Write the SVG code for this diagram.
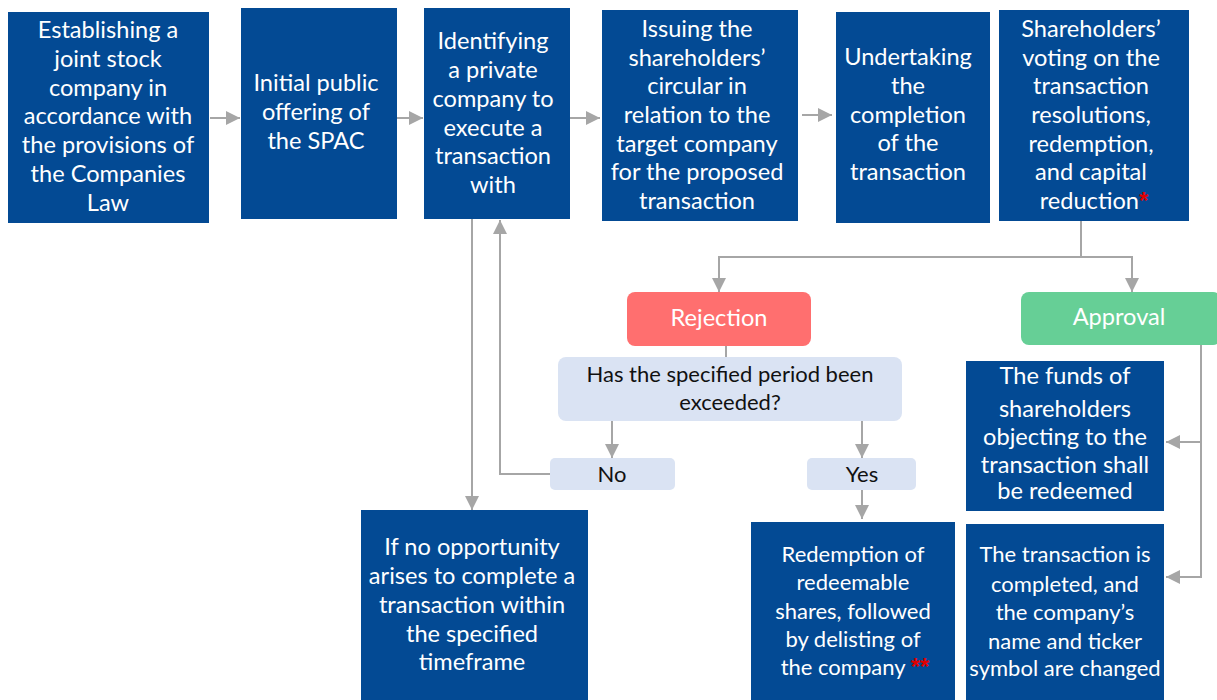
<svg xmlns="http://www.w3.org/2000/svg" width="1217" height="700" viewBox="0 0 1217 700">
<style>
.b{fill:#034A94}
.t{font-family:Lato,"Open Sans","Liberation Sans",sans-serif;font-size:23.6px;fill:#fff;text-anchor:middle}
.s{font-size:22px}
.q{font-family:Lato,"Open Sans","Liberation Sans",sans-serif;font-size:22px;fill:#111;text-anchor:middle}
.lb{fill:#DAE3F3}
.c{fill:none;stroke:#A6A6A6;stroke-width:2}
.r{fill:#E00000;font-family:"Liberation Sans",sans-serif;font-size:24px;font-weight:bold}
</style>
<defs>
<marker id="ah" viewBox="0 0 14 14" markerWidth="14" markerHeight="14" refX="14" refY="7" orient="auto" markerUnits="userSpaceOnUse">
<path d="M0,0 L14,7 L0,14 Z" fill="#A6A6A6"/>
</marker>
</defs>
<rect width="1217" height="700" fill="#fff"/>
<g id="connectors">
<path class="c" d="M210,118 H240" marker-end="url(#ah)"/>
<path class="c" d="M397,118 H423" marker-end="url(#ah)"/>
<path class="c" d="M570,118 H600" marker-end="url(#ah)"/>
<path class="c" d="M802,115 H832" marker-end="url(#ah)"/>
<path class="c" d="M1081,221 V257 H719 V292" marker-end="url(#ah)"/>
<path class="c" d="M1081,257 H1132 V292" marker-end="url(#ah)"/>
<path class="c" d="M726,346 V357"/>
<path class="c" d="M612,421 V458" marker-end="url(#ah)"/>
<path class="c" d="M862,421 V458" marker-end="url(#ah)"/>
<path class="c" d="M550,474 H500 V220" marker-end="url(#ah)"/>
<path class="c" d="M472,219 V510" marker-end="url(#ah)"/>
<path class="c" d="M862,490 V519" marker-end="url(#ah)"/>
<path class="c" d="M1201,345 V577 H1166" marker-end="url(#ah)"/>
<path class="c" d="M1201,442 H1166" marker-end="url(#ah)"/>
</g>
<g id="n1"><rect class="b" x="8" y="12" width="201" height="211"/>
<text class="t"><tspan x="108" y="38">Establishing a</tspan><tspan x="108" y="67">joint stock</tspan><tspan x="108" y="96">company in</tspan><tspan x="108" y="124">accordance with</tspan><tspan x="108" y="153">the provisions of</tspan><tspan x="108" y="182">the Companies</tspan><tspan x="108" y="211">Law</tspan></text></g>
<g id="n2"><rect class="b" x="241" y="8" width="156" height="211"/>
<text class="t"><tspan x="316" y="91">Initial public</tspan><tspan x="316" y="120">offering of</tspan><tspan x="316" y="149">the SPAC</tspan></text></g>
<g id="n3"><rect class="b" x="424" y="8" width="146" height="211"/>
<text class="t"><tspan x="493" y="49">Identifying</tspan><tspan x="493" y="78">a private</tspan><tspan x="493" y="107">company to</tspan><tspan x="493" y="136">execute a</tspan><tspan x="493" y="164">transaction</tspan><tspan x="493" y="193">with</tspan></text></g>
<g id="n4"><rect class="b" x="602" y="10" width="196" height="211"/>
<text class="t"><tspan x="697" y="37">Issuing the</tspan><tspan x="697" y="66">shareholders’</tspan><tspan x="697" y="94">circular in</tspan><tspan x="697" y="123">relation to the</tspan><tspan x="697" y="152">target company</tspan><tspan x="697" y="180">for the proposed</tspan><tspan x="697" y="209">transaction</tspan></text></g>
<g id="n5"><rect class="b" x="836" y="12" width="154" height="211"/>
<text class="t"><tspan x="908" y="65">Undertaking</tspan><tspan x="908" y="94">the</tspan><tspan x="908" y="123">completion</tspan><tspan x="908" y="151">of the</tspan><tspan x="908" y="180">transaction</tspan></text></g>
<g id="n6"><rect class="b" x="999" y="10" width="190" height="211"/>
<text class="t"><tspan x="1091" y="37">Shareholders’</tspan><tspan x="1091" y="66">voting on the</tspan><tspan x="1091" y="94">transaction</tspan><tspan x="1091" y="123">resolutions,</tspan><tspan x="1091" y="152">redemption,</tspan><tspan x="1091" y="180">and capital</tspan><tspan x="1094" y="209">reduction<tspan class="r">*</tspan></tspan></text></g>
<g id="rejection"><rect x="627" y="292" width="184" height="54" rx="8" fill="#FF6F6F"/>
<text class="t" x="719" y="326">Rejection</text></g>
<g id="approval"><rect x="1021" y="292" width="200" height="53" rx="8" fill="#66CF96"/>
<text class="t" x="1119" y="325">Approval</text></g>
<g id="question"><rect class="lb" x="558" y="357" width="344" height="64" rx="8"/>
<text class="q"><tspan x="730" y="382">Has the specified period been</tspan><tspan x="730" y="410">exceeded?</tspan></text></g>
<g id="no"><rect class="lb" x="550" y="458" width="125" height="32" rx="5"/>
<text class="q" x="612" y="482">No</text></g>
<g id="yes"><rect class="lb" x="807" y="458" width="109" height="32" rx="5"/>
<text class="q" x="862" y="482">Yes</text></g>
<g id="funds"><rect class="b" x="966" y="361" width="198" height="150"/>
<text class="t"><tspan x="1065" y="384">The funds of</tspan><tspan x="1065" y="417">shareholders</tspan><tspan x="1065" y="445">objecting to the</tspan><tspan x="1065" y="473">transaction shall</tspan><tspan x="1065" y="499">be redeemed</tspan></text></g>
<g id="noopp"><rect class="b" x="361" y="510" width="227" height="190"/>
<text class="t"><tspan x="472" y="555">If no opportunity</tspan><tspan x="472" y="584">arises to complete a</tspan><tspan x="472" y="613">transaction within</tspan><tspan x="472" y="642">the specified</tspan><tspan x="472" y="670">timeframe</tspan></text></g>
<g id="redemption"><rect class="b" x="751" y="522" width="204" height="178"/>
<text class="t s"><tspan x="853" y="562">Redemption of</tspan><tspan x="853" y="590">redeemable</tspan><tspan x="853" y="619">shares, followed</tspan><tspan x="853" y="647">by delisting of</tspan><tspan x="855" y="675">the company <tspan class="r">**</tspan></tspan></text></g>
<g id="completed"><rect class="b" x="966" y="524" width="198" height="176"/>
<text class="t s"><tspan x="1065" y="562">The transaction is</tspan><tspan x="1065" y="592">completed, and</tspan><tspan x="1065" y="620">the company’s</tspan><tspan x="1065" y="649">name and ticker</tspan><tspan x="1065" y="676">symbol are changed</tspan></text></g>
</svg>
